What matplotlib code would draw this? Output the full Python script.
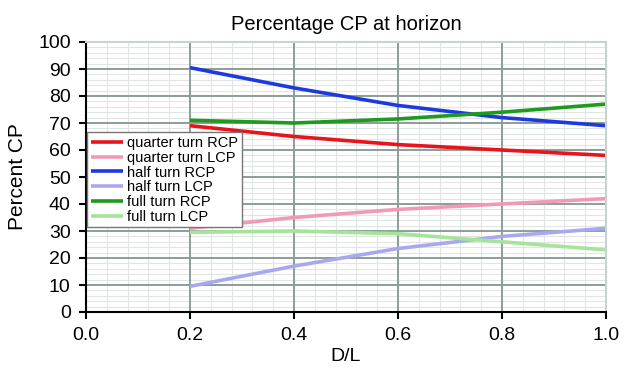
import matplotlib.pyplot as plt

d_over_l = [0.2, 0.4, 0.6, 0.8, 1.0]

quarter_rcp = [69, 65, 62, 60, 58]
quarter_lcp = [31, 35, 38, 40, 42]
half_rcp = [90.5, 83, 76.5, 72, 69]
half_lcp = [9.5, 17, 23.5, 28, 31]
full_rcp = [71, 70, 71.5, 74, 77]
full_lcp = [29.5, 30, 29, 26, 23]

x_ticks = [0.0, 0.2, 0.4, 0.6, 0.8, 1.0]
x_labels = ["0.0", "0.2", "0.4", "0.6", "0.8", "1.0"]
y_ticks = list(range(0, 101, 10))

series = [
    ("quarter turn RCP", quarter_rcp, "#e8141c"),
    ("quarter turn LCP", quarter_lcp, "#f19ab8"),
    ("half turn RCP", half_rcp, "#1c3ae0"),
    ("half turn LCP", half_lcp, "#a9a8ee"),
    ("full turn RCP", full_rcp, "#1e9a1e"),
    ("full turn LCP", full_lcp, "#a6e49a"),
]

plt.rcParams['font.family'] = ['Liberation Sans', 'DejaVu Sans']

fig = plt.figure(figsize=(6.38, 3.81), dpi=100)
ax = fig.add_axes([86 / 638, 1 - 312 / 381, 520 / 638, 270 / 381])

for name, vals, col in series:
    ax.plot(d_over_l, vals, color=col, lw=2.6, label=name, solid_capstyle='butt')

ax.set_xlim(0, 1.0)
ax.set_ylim(0, 100)
ax.set_xticks(x_ticks)
ax.set_xticklabels(x_labels)
ax.set_yticks(y_ticks)

# light minor grid drawn by hand so it stays under the major grid
for i in range(1, 25):
    if i % 5:
        ax.axvline(i * 0.04, color='#dfe6e4', lw=0.8, zorder=0.2)
for v in range(2, 100, 2):
    if v % 10:
        ax.axhline(v, color='#dfe6e4', lw=0.8, zorder=0.2)

ax.grid(which='major', color='#8e9d99', lw=1.4)
ax.set_axisbelow(True)

ax.tick_params(which='major', direction='out', length=5, width=1.5, labelsize=14, pad=6)
for s in ('left', 'bottom'):
    ax.spines[s].set_color('black')
    ax.spines[s].set_linewidth(1.5)
for s in ('top', 'right'):
    ax.spines[s].set_color('#c8d2d0')
    ax.spines[s].set_linewidth(1.5)

ax.set_title("Percentage CP at horizon", fontsize=14.5, pad=9)
ax.set_xlabel("D/L", fontsize=14, labelpad=3)
ax.set_ylabel("Percent CP", fontsize=15, labelpad=8)

leg = ax.legend(loc='upper left', bbox_to_anchor=(0.002, 0.665), fontsize=10.5,
                handlelength=2.2, handletextpad=0.3, labelspacing=0.05,
                borderpad=0.25, borderaxespad=0, fancybox=False, framealpha=1)
leg.get_frame().set_edgecolor('#777777')
leg.get_frame().set_linewidth(1.0)

fig.savefig("out.png", dpi=100)
